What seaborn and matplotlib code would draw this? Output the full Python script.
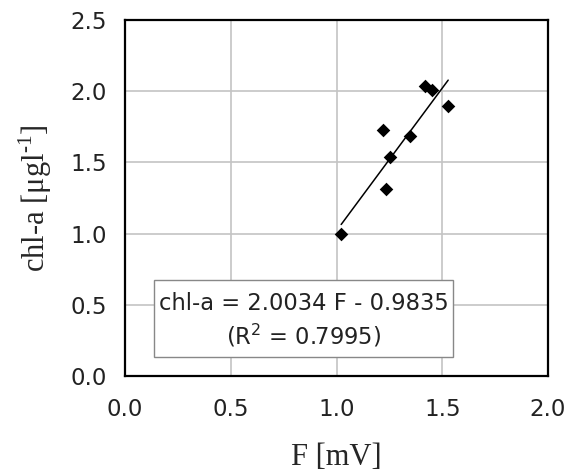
"""
plot.py
Calibration of chl-a against fluorescence signal F, with linear fit box.
"""
import numpy as np
import pandas as pd
import matplotlib
matplotlib.use("Agg")
import matplotlib.pyplot as plt
from matplotlib.patches import Rectangle
import seaborn as sns

# ── Data ──────────────────────────────────────────────────────────────────
f_mv = [1.022, 1.232, 1.253, 1.222, 1.347, 1.419, 1.453, 1.528]
chl_a = [1.00, 1.31, 1.54, 1.73, 1.685, 2.04, 2.01, 1.895]
slope, intercept = 2.0034, -0.9835
r_squared = 0.7995
x_ticks = [0.0, 0.5, 1.0, 1.5, 2.0]
y_ticks = [0.0, 0.5, 1.0, 1.5, 2.0, 2.5]

df = pd.DataFrame({"F": f_mv, "chl": chl_a})
fit_x = np.array([min(f_mv), max(f_mv)])
fit = pd.DataFrame({"F": fit_x, "chl": slope * fit_x + intercept})

sns.set_style("whitegrid")
plt.rcParams["font.family"] = ["DejaVu Sans"]
plt.rcParams["mathtext.fontset"] = "custom"
plt.rcParams["mathtext.rm"] = "Liberation Serif"
plt.rcParams["mathtext.sf"] = "DejaVu Sans"

fig = plt.figure(figsize=(5.67, 4.74), dpi=100)
ax = fig.add_axes([0.2205, 0.2068, 0.746, 0.751])

sns.lineplot(data=fit, x="F", y="chl", color="black", linewidth=1.1, ax=ax,
             zorder=3)
sns.scatterplot(data=df, x="F", y="chl", marker="D", s=48, color="black",
                edgecolor="black", linewidth=0, ax=ax, zorder=4)

ax.set_xlim(0, 2.0)
ax.set_ylim(0, 2.5)
ax.set_xticks(x_ticks)
ax.set_yticks(y_ticks)
ax.set_xticklabels([f"{v:.1f}" for v in x_ticks])
ax.set_yticklabels([f"{v:.1f}" for v in y_ticks])
ax.tick_params(length=0, labelsize=16.5, colors="#222222")
ax.tick_params(axis="x", pad=16)
ax.tick_params(axis="y", pad=13)
ax.grid(True, color="#c4c4c4", linewidth=1.2)
for sp in ax.spines.values():
    sp.set_color("black")
    sp.set_linewidth(1.6)

serif = ["Liberation Serif", "DejaVu Serif"]
ax.set_xlabel("F [mV]", fontsize=22, family=serif, labelpad=16)
ax.set_ylabel(r"chl-a [μgl$^{\text{-1}}$]",
              fontsize=22, family=serif, labelpad=12)

# ── Equation box ───────────────────────────────────────────────────────────
box = Rectangle((0.0686, 0.053), 0.707, 0.217, transform=ax.transAxes,
                facecolor="white", edgecolor="#888888", linewidth=1.0,
                zorder=5)
ax.add_patch(box)
ax.text(0.4225, 0.205, f"chl-a = {slope:.4f} F - {abs(intercept):.4f}",
        transform=ax.transAxes, ha="center", va="center", fontsize=16.3,
        color="#222222", zorder=6)
ax.text(0.4225, 0.112, r"(R$^{\mathsf{2}}$ = " + f"{r_squared:.4f})",
        transform=ax.transAxes, ha="center", va="center", fontsize=16.3,
        color="#222222", zorder=6)

fig.savefig("out.png", dpi=100)
plt.close(fig)
